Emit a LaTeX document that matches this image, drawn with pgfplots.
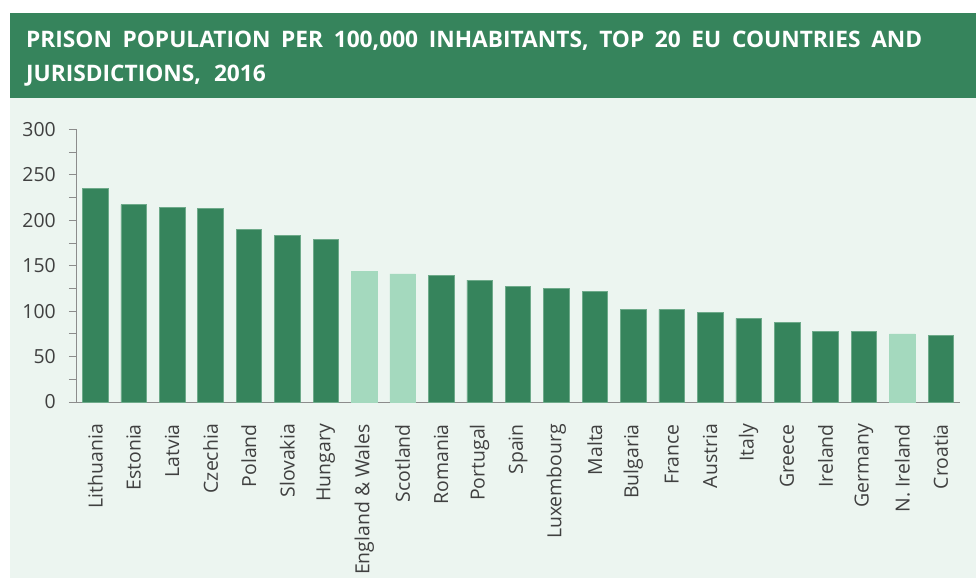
\documentclass[border=0pt]{standalone}
\usepackage{pgfplots}
\pgfplotsset{compat=1.18}
\usepackage{fontspec}
\setmainfont{Open Sans}
\definecolor{dkgreen}{RGB}{54,132,92}
\definecolor{ltgreen}{RGB}{164,217,190}
\definecolor{bggreen}{RGB}{236,245,240}
\definecolor{txt}{RGB}{64,64,64}
\definecolor{axgray}{RGB}{140,140,140}
\definecolor{edgegreen}{RGB}{110,170,138}
\begin{document}
\begin{tikzpicture}
\fill[white] (0bp,0bp) rectangle (976bp,579bp);
\fill[bggreen] (10bp,1bp) rectangle (976bp,481bp);
\fill[dkgreen] (10bp,481bp) rectangle (976bp,566bp);
\node[anchor=base west, inner sep=0pt, text=white, font=\fontsize{22.8}{28}\selectfont\bfseries] at (26bp,531bp) {\makebox[896bp][s]{PRISON POPULATION PER 100,000 INHABITANTS, TOP 20 EU COUNTRIES AND}};
\node[anchor=base west, inner sep=0pt, text=white, font=\fontsize{22.8}{28}\selectfont\bfseries] at (26bp,497bp) {JURISDICTIONS,\hspace{13bp}2016};
\draw[axgray, line width=0.8bp] (69bp,177bp) -- (76bp,177bp);
\begin{axis}[
  at={(76bp,177bp)}, anchor=south west,
  scale only axis, width=884bp, height=272.7bp,
  xmin=-0.5, xmax=22.5, ymin=0, ymax=300,
  axis x line=bottom, axis y line=left,
  axis line style={-, draw=axgray, line width=0.8bp},
  ytick={0,50,...,300}, minor y tick num=1,
  tick align=outside, major tick length=7bp, minor tick length=7bp,
  ytick style={draw=axgray, line width=0.8bp},
  minor y tick style={draw=axgray, line width=0.8bp},
  xtick={0,...,22}, major x tick style={draw=none},
  xticklabels={Lithuania,Estonia,Latvia,Czechia,Poland,Slovakia,Hungary,England \& Wales,Scotland,Romania,Portugal,Spain,Luxembourg,Malta,Bulgaria,France,Austria,Italy,Greece,Ireland,Germany,N. Ireland,Croatia},
  xticklabel shift=15bp,
  xticklabel style={rotate=90, anchor=east, inner sep=0pt, font=\fontsize{19.5}{22}\selectfont, text=txt},
  yticklabel style={anchor=east, inner sep=0pt, xshift=-13bp, font=\fontsize{19.5}{22}\selectfont, text=txt},
  /pgf/number format/assume math mode=true,
  ybar, bar width=25.5bp, bar shift=0pt,
  clip=false,
]
\addplot[fill=dkgreen, draw=edgegreen, line width=0.6bp] coordinates {
(0,235) (1,217) (2,214) (3,213) (4,190) (5,183) (6,179)
(9,139) (10,134) (11,127) (12,125) (13,122) (14,102) (15,102)
(16,99) (17,92) (18,88) (19,78) (20,78) (22,73)};
\addplot[fill=ltgreen, draw=ltgreen, line width=0.6bp] coordinates {
(7,144) (8,141) (21,75)};
\end{axis}
\pgfresetboundingbox
\useasboundingbox (0bp,0bp) rectangle (976bp,579bp);
\end{tikzpicture}
\end{document}
